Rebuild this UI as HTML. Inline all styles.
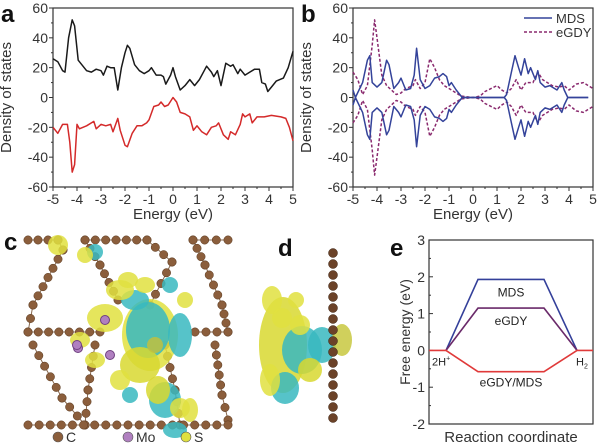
<!DOCTYPE html>
<html><head><meta charset="utf-8"><style>
html,body{margin:0;padding:0;background:#fff;}
svg{display:block;font-family:"Liberation Sans",Arial,sans-serif;}
</style></head><body>
<svg id="fig" width="600" height="448" viewBox="0 0 600 448" xmlns="http://www.w3.org/2000/svg">
<g id="pa"></g>
<g id="pb"></g>
<g id="pc"></g>
<g id="pd"></g>
<g id="pe"></g>
</svg>
<script>
// ---- Panel a data ----
const aBlackX=[-5,-4.8,-4.6,-4.5,-4.35,-4.2,-4.1,-3.95,-3.8,-3.6,-3.4,-3.2,-3.0,-2.9,-2.75,-2.6,-2.45,-2.3,-2.15,-2.0,-1.9,-1.8,-1.6,-1.4,-1.2,-1.0,-0.9,-0.7,-0.5,-0.4,-0.3,-0.1,0,0.1,0.3,0.5,0.6,0.7,0.9,1.1,1.3,1.4,1.6,1.7,1.85,2.0,2.2,2.4,2.5,2.7,2.8,3.0,3.2,3.4,3.6,3.7,3.85,3.95,4.1,4.3,4.6,4.8,5];
const aBlackY=[26,24,18,17,40,52,48,25,22,18,17,19,18,15,21,20,20,5,20,30,35,33,22,18,16,18,20,15,15,14,9,15,20,14,5,8,10,12,8,12,18,21,17,14,18,8,23,21,22,16,19,15,17,19,19,10,9,4,7,11,13,20,31];
const aRedX=[-5,-4.8,-4.6,-4.4,-4.3,-4.2,-4.1,-4.0,-3.9,-3.6,-3.3,-3.2,-3.0,-2.8,-2.6,-2.5,-2.3,-2.2,-2.0,-1.9,-1.7,-1.5,-1.3,-1.1,-1.0,-0.8,-0.6,-0.5,-0.35,-0.2,0,0.15,0.3,0.5,0.7,0.85,1.0,1.2,1.4,1.6,1.8,1.9,2.1,2.3,2.4,2.6,2.8,2.9,3.0,3.2,3.3,3.5,3.8,4.1,4.5,4.7,4.85,5];
const aRedY=[-20,-24,-18,-18,-30,-50,-45,-18,-21,-19,-16,-21,-18,-19,-18,-23,-14,-22,-32,-33,-24,-19,-19,-17,-15,-6,-5,-3,-6,-5,0,-3,-10,-11,-13,-22,-19,-23,-25,-20,-19,-17,-25,-28,-23,-25,-18,-11,-13,-11,-17,-13,-13,-12,-13,-14,-20,-29];
// ---- Panel b data ----
const bMdsX=[-5,-4.9,-4.6,-4.4,-4.3,-4.2,-4.0,-3.8,-3.6,-3.5,-3.3,-3.1,-3.0,-2.8,-2.6,-2.45,-2.35,-2.2,-2.0,-1.8,-1.6,-1.4,-1.25,-1.1,-1.0,-0.9,-0.7,-0.45,1.3,1.4,1.6,1.75,1.9,2.0,2.15,2.3,2.4,2.6,2.7,2.8,3.0,3.2,3.5,3.7,3.8,3.95,4.8];
const bMdsY=[5,0,10,25,28,10,7,10,25,22,6,10,13,5,6,15,33,12,6,8,13,14,16,14,8,10,5,0,0,2,17,28,20,15,26,16,20,12,18,10,7,8,5,10,5,0,0];
const bGdyX=[-5,-4.8,-4.6,-4.4,-4.2,-4.1,-4.0,-3.8,-3.6,-3.4,-3.2,-3.0,-2.8,-2.5,-2.4,-2.2,-2.0,-1.8,-1.6,-1.4,-1.2,-1.0,-0.8,-0.5,0,0.3,0.5,1.0,1.2,1.4,1.6,1.8,2.0,2.2,2.5,2.7,2.9,3.1,3.3,3.6,3.8,4.0,4.3,4.6,4.8,5];
const bGdyY=[17,12,2,8,35,52,40,15,8,5,2,3,6,8,12,6,10,26,20,12,8,6,4,1,0,1,4,8,5,3,6,12,5,10,10,17,12,10,8,7,8,5,9,10,8,6];
const dosTicksY=[60,40,20,0,-20,-40,-60];
const dosTicksX=[-5,-4,-3,-2,-1,0,1,2,3,4,5];
// ---- Panel e data ----
const eStates=[0,1,2,3]; // 2H*, TS start, TS end, H2
const eMDS=[0,1.93,1.93,0];
const eGDY=[0,1.15,1.15,0];
const eHyb=[0,-0.58,-0.58,0];
const eTicksY=[3,2,1,0,-1,-2];

const NS="http://www.w3.org/2000/svg";
function mk(p,tag,attrs,txt){const e=document.createElementNS(NS,tag);for(const k in attrs)e.setAttribute(k,attrs[k]);if(txt!==undefined)e.textContent=txt;p.appendChild(e);return e;}

function dosPanel(g,x0,x1,y0,y1,letter){
  const sx=v=>x0+(v+5)/10*(x1-x0);
  const sy=v=>y0+(60-v)/120*(y1-y0);
  const box=mk(g,'rect',{x:x0,y:y0,width:x1-x0,height:y1-y0,fill:'none',stroke:'#333','stroke-width':1.2});
  
  
  dosTicksY.forEach(v=>{
    mk(g,'line',{x1:x0-4,x2:x0,y1:sy(v),y2:sy(v),stroke:'#333'});
    mk(g,'line',{x1:x0-2,x2:x0,y1:sy(v-10),y2:sy(v-10),stroke:'#333'});
    const t=mk(g,'text',{x:x0-5,y:sy(v)+5,'text-anchor':'end','font-size':14,fill:'#333'},String(v));
    
    
  });
  dosTicksX.forEach(v=>{
    mk(g,'line',{x1:sx(v),x2:sx(v),y1:y1,y2:y1+4,stroke:'#333'});
    if(v<5)mk(g,'line',{x1:sx(v+0.5),x2:sx(v+0.5),y1:y1,y2:y1+2,stroke:'#333'});
    const t=mk(g,'text',{x:sx(v),y:y1+17,'text-anchor':'middle','font-size':14,fill:'#333'},String(v));
    
    
  });
  const xt=mk(g,'text',{x:(x0+x1)/2,y:219,'text-anchor':'middle','font-size':15,fill:'#333'},'Energy (eV)');
  
  
  const cy=(y0+y1)/2, cx=x0-42;
  const yt=mk(g,'text',{x:cx,y:cy,'text-anchor':'middle','font-size':15,fill:'#333',transform:`rotate(-90 ${cx} ${cy})`},'Density of states');
  
  
  const L=mk(g,'text',{x:x0-52,y:22,'font-size':24,'font-weight':'bold',fill:'#111'},letter);
  
  
  return {sx,sy};
}
function line(g,xs,ys,sx,sy,attrs,name){
  const d=xs.map((x,i)=>(i?'L':'M')+sx(x).toFixed(1)+' '+sy(ys[i]).toFixed(1)).join(' ');
  const p=mk(g,'path',Object.assign({d,fill:'none','stroke-linejoin':'round'},attrs));
  
  
}
// Panel a
(function(){
  const g=document.getElementById('pa');
  const {sx,sy}=dosPanel(g,53,293,8,187,'a');
  line(g,aBlackX,aBlackY,sx,sy,{stroke:'#1a1a1a','stroke-width':1.5},'spin-up-line');
  line(g,aRedX,aRedY,sx,sy,{stroke:'#d42a2a','stroke-width':1.5},'spin-down-line');
})();
// Panel b
(function(){
  const g=document.getElementById('pb');
  const {sx,sy}=dosPanel(g,353,593,8,187,'b');
  const neg=a=>a.map(v=>-v);
  line(g,bGdyX,bGdyY,sx,sy,{stroke:'#8a2a6e','stroke-width':1.5,'stroke-dasharray':'3 2'},'egdy-up-line');
  line(g,bGdyX,neg(bGdyY),sx,sy,{stroke:'#8a2a6e','stroke-width':1.5,'stroke-dasharray':'3 2'},'egdy-down-line');
  line(g,bMdsX,bMdsY,sx,sy,{stroke:'#34439a','stroke-width':1.5},'mds-up-line');
  line(g,bMdsX,neg(bMdsY),sx,sy,{stroke:'#34439a','stroke-width':1.5},'mds-down-line');
  const lg=mk(g,'g',{});
  
  
  mk(lg,'line',{x1:524,x2:552,y1:18,y2:18,stroke:'#34439a','stroke-width':1.5});
  mk(lg,'text',{x:556,y:23,'font-size':13,fill:'#333'},'MDS');
  mk(lg,'line',{x1:524,x2:552,y1:32,y2:32,stroke:'#8a2a6e','stroke-width':1.5,'stroke-dasharray':'3 2'});
  mk(lg,'text',{x:556,y:37,'font-size':13,fill:'#333'},'eGDY');
})();
// Panel c (structure illustration)
(function(){
  const g=document.getElementById('pc');
  const segs=[[[28,240],[58,240]],[[85,240],[147,240]],[[193,240],[228,240]],
    [[58,240],[63,250],[33,305],[28,332]],[[85,240],[100,265],[118,300]],[[147,240],[172,262],[150,305]],
    [[193,240],[205,265],[222,305],[228,332]],[[28,332],[100,332]],[[195,332],[228,332]],
    [[33,345],[62,398],[85,425]],[[95,345],[88,390],[85,425]],[[165,345],[175,390],[180,425]],
    [[215,345],[222,395],[228,420]],[[28,425],[228,425]]];
  segs.forEach(s=>{
    for(let i=0;i<s.length-1;i++){
      const [ax,ay]=s[i],[bx,by]=s[i+1];
      mk(g,'line',{x1:ax,y1:ay,x2:bx,y2:by,stroke:'#8a6a50','stroke-width':1});
      const n=Math.max(1,Math.round(Math.hypot(bx-ax,by-ay)/11));
      for(let k=0;k<=n;k++)mk(g,'circle',{cx:ax+(bx-ax)*k/n,cy:ay+(by-ay)*k/n,r:4.2,fill:'#8b5e3c',stroke:'#5a3a20','stroke-width':0.5});
    }
  });
  const blobs=[[150,335,28,36,'#e0e040'],[148,330,22,28,'#38b8c0'],[140,365,20,18,'#d8d830'],[180,335,12,22,'#38b8c0'],
    [165,400,16,18,'#38b8c0'],[180,408,10,10,'#e0e040'],[135,300,14,10,'#38b8c0'],[105,318,18,14,'#e0e040'],[80,340,10,8,'#e0e040'],
    [158,390,12,14,'#d8d830'],[95,252,8,8,'#38b8c0'],[58,245,10,10,'#e0e040'],[85,255,8,8,'#e0e040'],[120,290,14,10,'#e0e040'],
    [175,430,12,8,'#38b8c0'],[190,410,8,12,'#e0e040'],[155,345,8,8,'#c0c040'],[128,280,10,8,'#e0e040'],[145,285,10,8,'#e0e040'],
    [95,360,10,8,'#e0e040'],[120,380,10,10,'#e0e040'],[130,395,8,8,'#38b8c0'],[185,300,8,8,'#e0e040'],[170,285,8,8,'#38b8c0']];
  blobs.forEach(b=>mk(g,'ellipse',{cx:b[0],cy:b[1],rx:b[2],ry:b[3],fill:b[4],opacity:0.85}));
  [[105,320],[110,355],[78,348],[77,345]].forEach(p=>mk(g,'circle',{cx:p[0],cy:p[1],r:4.5,fill:'#b080c0',stroke:'#704080'}));
  const L=mk(g,'text',{x:4,y:250,'font-size':24,'font-weight':'bold',fill:'#111'},'c');
  
  
  const lg=mk(g,'g',{});
  
  
  [[58,'#8b5e3c','C'],[128,'#b080c0','Mo'],[186,'#e0e040','S']].forEach(a=>{
    mk(lg,'circle',{cx:a[0],cy:437,r:5,fill:a[1],stroke:'#555','stroke-width':0.6});
    mk(lg,'text',{x:a[0]+8,y:442,'font-size':14,fill:'#333'},a[2]);
  });
})();
// Panel d
(function(){
  const g=document.getElementById('pd');
  const L=mk(g,'text',{x:278,y:256,'font-size':24,'font-weight':'bold',fill:'#111'},'d');
  
  
  const blobs=[[283,345,24,48,'#d8d830'],[302,350,20,24,'#38b8c0'],[322,345,14,18,'#38b8c0'],[342,340,10,16,'#c8c840'],
    [285,388,14,16,'#38b8c0'],[272,300,10,14,'#e0e040'],[282,318,10,10,'#e0e040'],[296,300,8,8,'#e0e040'],[270,380,10,16,'#e0e040'],
    [300,325,10,10,'#e0e040'],[310,370,12,12,'#d8d830']];
  blobs.forEach(b=>mk(g,'ellipse',{cx:b[0],cy:b[1],rx:b[2],ry:b[3],fill:b[4],opacity:0.85}));
  for(let y=253;y<=428;y+=11)mk(g,'circle',{cx:333,cy:y,r:4.5,fill:'#6b4228',stroke:'#3a2010','stroke-width':0.5});
})();
// Panel e
(function(){
  const g=document.getElementById('pe');
  const x0=429,x1=593,y0=240,y1=424;
  const sy=v=>y0+(3-v)/5*(y1-y0);
  const stateX=[446,478,544,577];
  const sx=i=>stateX[i];
  const box=mk(g,'rect',{x:x0,y:y0,width:x1-x0,height:y1-y0,fill:'none',stroke:'#333','stroke-width':1.2});
  
  
  eTicksY.forEach(v=>{
    mk(g,'line',{x1:x0,x2:x0+4,y1:sy(v),y2:sy(v),stroke:'#333'});
    if(v>-2)mk(g,'line',{x1:x0,x2:x0+2,y1:sy(v-0.5),y2:sy(v-0.5),stroke:'#333'});
    const t=mk(g,'text',{x:x0-4,y:sy(v)+5,'text-anchor':'end','font-size':14,fill:'#333'},String(v));
    
    
  });
  const cy=(y0+y1)/2,cx=410;
  const yt=mk(g,'text',{x:cx,y:cy,'text-anchor':'middle','font-size':14,fill:'#333',transform:`rotate(-90 ${cx} ${cy})`},'Free energy (eV)');
  
  
  const xt=mk(g,'text',{x:(x0+x1)/2,y:442,'text-anchor':'middle','font-size':15,fill:'#333'},'Reaction coordinate');
  
  
  const L=mk(g,'text',{x:390,y:256,'font-size':24,'font-weight':'bold',fill:'#111'},'e');
  
  
  function path(vals,color,name,ext){
    let pts=vals.map((v,i)=>[sx(i),sy(v)]);
    if(ext)pts=[[x0,sy(vals[0])]].concat(pts,[[x1,sy(vals[3])]]);
    const p=mk(g,'path',{d:pts.map((p,i)=>(i?'L':'M')+p[0]+' '+p[1].toFixed(1)).join(' '),fill:'none',stroke:color,'stroke-width':1.6});
    
    
  }
  path(eMDS,'#34409a','mds-path',false);
  path(eGDY,'#6a2a6a','egdy-path',false);
  path(eHyb,'#e03a3a','egdy-mds-path',true);
  const mid=(sx(1)+sx(2))/2;
  mk(g,'text',{x:mid,y:sy(eMDS[1])+17,'text-anchor':'middle','font-size':12,fill:'#222'},'MDS');
  mk(g,'text',{x:mid,y:sy(eGDY[1])+17,'text-anchor':'middle','font-size':12,fill:'#222'},'eGDY');
  mk(g,'text',{x:mid,y:sy(eHyb[1])+15,'text-anchor':'middle','font-size':12,fill:'#222'},'eGDY/MDS');
  const t1=mk(g,'text',{x:432,y:sy(0)+15,'font-size':11,fill:'#222'},'2H');
  mk(t1,'tspan',{'font-size':7,dy:-5},'+');
  const t2=mk(g,'text',{x:576,y:sy(0)+15,'font-size':11,fill:'#222'},'H');
  mk(t2,'tspan',{'font-size':7,dy:3},'2');
})();
</script>
</body></html>
